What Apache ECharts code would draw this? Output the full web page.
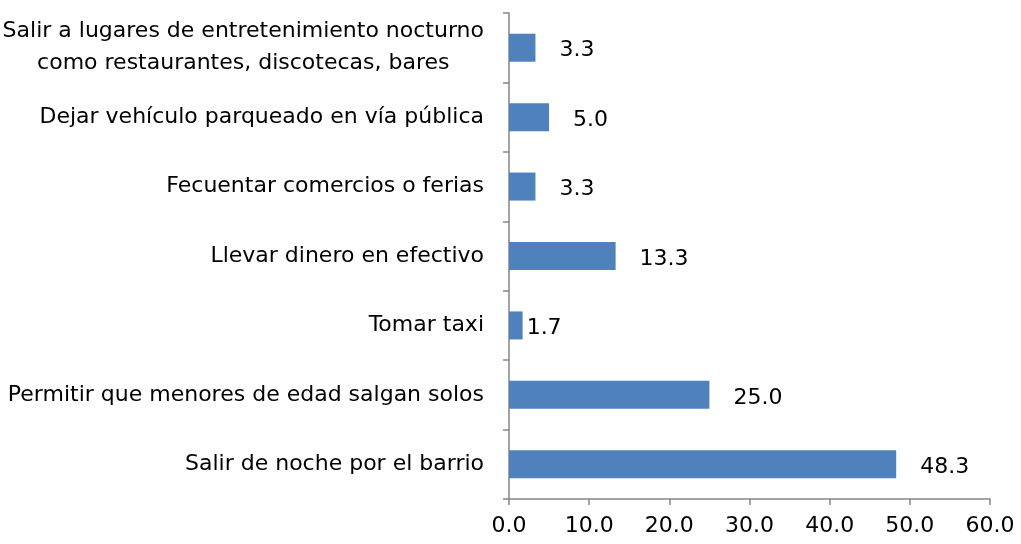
<!doctype html>
<html>
<head>
    <meta charset="UTF-8">
    <title>Chart</title>
    <script src="https://cdn.jsdelivr.net/npm/echarts@6/dist/echarts.min.js"></script>
    <style>
        html, body { margin: 0; padding: 0; background: #fff; }
        #chart { width: 1021px; height: 544px; }
    </style>
</head>
<body>
    <div id="chart"></div>
    <script type="text/javascript">
        // categories from bottom to top
        var categories = [
            'Salir de noche por el barrio',
            'Permitir que menores de edad salgan solos',
            'Tomar taxi',
            'Llevar dinero en efectivo',
            'Fecuentar comercios o ferias',
            'Dejar vehículo parqueado en vía pública',
            'Salir a lugares de entretenimiento nocturno\ncomo restaurantes, discotecas, bares'
        ];
        var values = [48.3, 25.0, 1.7, 13.3, 3.3, 5.0, 3.3];
        var xTicks = [0, 10, 20, 30, 40, 50, 60];

        var myChart = echarts.init(document.getElementById('chart'));
        var font = '"DejaVu Sans", sans-serif';

        // the small 1.7 label sits right against its bar
        var barData = values.map(function (v) {
            if (v < 2) return { value: v, label: { distance: 4 } };
            return v;
        });

        var option = {
            animation: false,
            grid: { left: 509, right: 31, top: 13, bottom: 45, outerBoundsMode: 'none' },
            xAxis: {
                type: 'value',
                min: xTicks[0],
                max: xTicks[xTicks.length - 1],
                interval: 10,
                splitLine: { show: false },
                axisLine: { show: true, lineStyle: { color: '#868686', width: 1.5 } },
                axisTick: { show: true, length: 6, lineStyle: { color: '#868686', width: 1.5 } },
                axisLabel: {
                    color: '#000', fontSize: 22, fontFamily: font, margin: 16,
                    formatter: function (v) { return v.toFixed(1); }
                }
            },
            yAxis: {
                type: 'category',
                data: categories,
                axisLine: { show: true, lineStyle: { color: '#868686', width: 1.5 } },
                axisTick: { show: true, length: 6, lineStyle: { color: '#868686', width: 1.5 } },
                axisLabel: {
                    color: '#000', fontSize: 22, fontFamily: font, margin: 25,
                    lineHeight: 32, align: 'right',
                    formatter: function (v) {
                        if (v.indexOf('\n') < 0) return v;
                        return v.split('\n').map(function (s) { return '{c|' + s + '}'; }).join('\n');
                    },
                    rich: {
                        c: { align: 'center', fontSize: 22, fontFamily: font, lineHeight: 32, color: '#000' }
                    }
                }
            },
            series: [{
                type: 'bar',
                data: barData,
                barWidth: 28,
                itemStyle: { color: '#4f81bd' },
                label: {
                    show: true,
                    position: 'right',
                    distance: 24,
                    offset: [0, 3],
                    color: '#000',
                    fontSize: 22,
                    fontFamily: font,
                    formatter: function (p) { return p.value.toFixed(1); }
                }
            }]
        };
        myChart.setOption(option);
    </script>
</body>
</html>
